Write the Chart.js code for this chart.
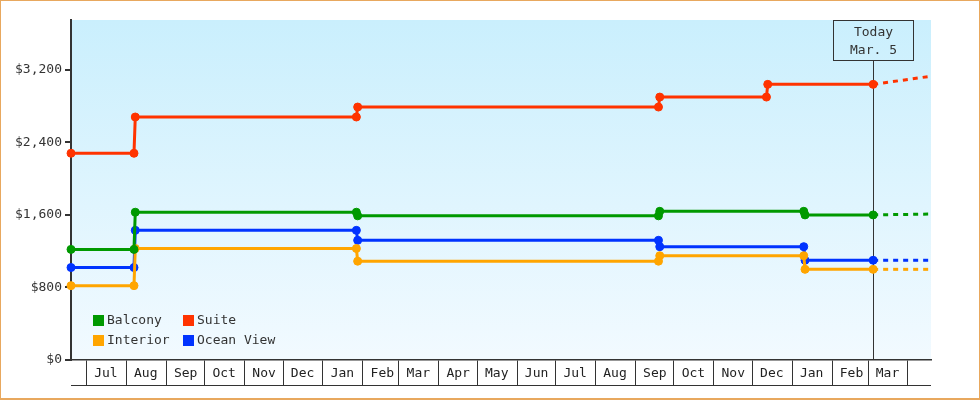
<!DOCTYPE html>
<html>
<head>
<meta charset="utf-8">
<script src="https://cdn.jsdelivr.net/npm/chart.js@4/dist/chart.umd.min.js"></script>
<style>
  html, body { margin: 0; padding: 0; background: #fff; }
  #wrap { position: relative; width: 980px; height: 400px; }
  #wrap::after {
    content: ''; position: absolute; left: 0; top: 0; right: 0; bottom: 0;
    border: 1px solid #e8a85e; border-bottom-width: 2px; pointer-events: none;
  }
  canvas { display: block; }
</style>
</head>
<body>
<div id="wrap"><canvas id="fares" width="980" height="400"></canvas></div>
<script>
// Series
const seriesNames = ['Balcony', 'Suite', 'Interior', 'Ocean View'];
const seriesColors = ['#009900', '#ff3300', '#ffa500', '#0033ff'];

// Price history (dates of each price change)
const cabinDates = ['2021-06-19', '2021-08-07', '2021-08-08', '2022-01-27', '2022-01-28',
                    '2022-09-19', '2022-09-20', '2023-01-10', '2023-01-11', '2023-03-05'];
const suiteDates = ['2021-06-19', '2021-08-07', '2021-08-08', '2022-01-27', '2022-01-28',
                    '2022-09-19', '2022-09-20', '2022-12-12', '2022-12-13', '2023-03-05'];

const balconyPrices = [1220, 1220, 1630, 1630, 1590, 1590, 1640, 1640, 1600, 1600];
const suitePrices = [2280, 2280, 2680, 2680, 2790, 2790, 2900, 2900, 3040, 3040];
const interiorPrices = [820, 820, 1230, 1230, 1090, 1090, 1150, 1150, 1000, 1000];
const oceanViewPrices = [1020, 1020, 1430, 1430, 1320, 1320, 1250, 1250, 1100, 1100];

// Projection past today (dashed)
const forecastDates = ['2023-03-05', '2023-04-19'];
const balconyForecast = [1600, 1610];
const suiteForecast = [3040, 3130];
const interiorForecast = [1000, 1000];
const oceanViewForecast = [1100, 1100];

// Axes
const axisStart = '2021-06-19';
const axisEnd = '2023-04-19';
const todayDate = '2023-03-05';
const todayLabel = ['Today', 'Mar. 5'];
const monthStarts = ['2021-07-01', '2021-08-01', '2021-09-01', '2021-10-01', '2021-11-01', '2021-12-01',
                     '2022-01-01', '2022-02-01', '2022-03-01', '2022-04-01', '2022-05-01', '2022-06-01',
                     '2022-07-01', '2022-08-01', '2022-09-01', '2022-10-01', '2022-11-01', '2022-12-01',
                     '2023-01-01', '2023-02-01', '2023-03-01', '2023-04-01'];
const monthLabels = ['Jul', 'Aug', 'Sep', 'Oct', 'Nov', 'Dec', 'Jan', 'Feb', 'Mar', 'Apr', 'May', 'Jun',
                     'Jul', 'Aug', 'Sep', 'Oct', 'Nov', 'Dec', 'Jan', 'Feb', 'Mar', ''];
const priceTicks = [0, 800, 1600, 2400, 3200];

const toDay = (s) => Date.parse(s + 'T00:00:00Z') / 86400000;
const toPoints = (dates, values) => dates.map((d, i) => ({ x: toDay(d), y: values[i] }));

function historySet(i, dates, values) {
  return {
    label: seriesNames[i],
    data: toPoints(dates, values),
    borderColor: seriesColors[i],
    backgroundColor: seriesColors[i],
    borderWidth: 3,
    pointRadius: 4,
    pointBorderWidth: 1,
    pointHoverRadius: 5,
    clip: false,
  };
}

function forecastSet(i, values) {
  return {
    label: seriesNames[i] + ' (projected)',
    data: toPoints(forecastDates, values),
    borderColor: seriesColors[i],
    borderWidth: 3,
    borderDash: [5, 5],
    borderCapStyle: 'butt',
    pointRadius: 0,
    clip: false,
  };
}

const decor = {
  id: 'decor',
  beforeDraw(chart) {
    // Sky gradient behind the plot
    const { ctx, chartArea: a } = chart;
    const g = ctx.createLinearGradient(0, a.top, 0, a.bottom);
    g.addColorStop(0, '#caeffd');
    g.addColorStop(1, '#f2faff');
    ctx.save();
    ctx.fillStyle = g;
    ctx.fillRect(a.left, a.top, a.right - a.left, a.bottom - a.top);
    ctx.restore();
  },
  beforeDatasetsDraw(chart) {
    // Today marker with its label box
    const { ctx, chartArea: a } = chart;
    const x = Math.round(chart.scales.x.getPixelForValue(toDay(todayDate))) + 0.5;
    const boxW = 80, boxH = 40;
    ctx.save();
    ctx.strokeStyle = '#333';
    ctx.lineWidth = 1;
    ctx.strokeRect(Math.round(x - boxW / 2) - 0.5, a.top + 0.5, boxW, boxH);
    ctx.beginPath();
    ctx.moveTo(x, a.top + boxH + 1);
    ctx.lineTo(x, a.bottom);
    ctx.stroke();
    ctx.fillStyle = '#333';
    ctx.font = '13px "DejaVu Sans Mono"';
    ctx.textAlign = 'center';
    ctx.textBaseline = 'middle';
    ctx.fillText(todayLabel[0], x, a.top + 13);
    ctx.fillText(todayLabel[1], x, a.top + 31);
    ctx.restore();
  },
  afterDraw(chart) {
    const { ctx, chartArea: a } = chart;
    ctx.save();
    // bottom edge of the month cells
    ctx.strokeStyle = '#333';
    ctx.lineWidth = 1;
    const yb = a.bottom + 25.5;
    ctx.beginPath();
    ctx.moveTo(a.left, yb);
    ctx.lineTo(a.right, yb);
    ctx.stroke();

    // Legend, two columns inside the plot
    ctx.font = '13px "DejaVu Sans Mono"';
    ctx.textBaseline = 'middle';
    ctx.textAlign = 'left';
    chart.data.datasets.slice(0, 4).forEach((ds, i) => {
      const bx = a.left + 22 + (i % 2) * 90;
      const by = a.bottom - 45 + Math.floor(i / 2) * 20;
      ctx.fillStyle = ds.borderColor;
      ctx.fillRect(bx, by, 11, 11);
      ctx.fillStyle = '#333';
      ctx.fillText(ds.label, bx + 14, by + 6);
    });
    ctx.restore();
  }
};

Chart.defaults.font.family = '"DejaVu Sans Mono", monospace';
Chart.defaults.font.size = 13;
Chart.defaults.color = '#333';

new Chart(document.getElementById('fares'), {
  type: 'line',
  data: {
    datasets: [
      historySet(0, cabinDates, balconyPrices),
      historySet(1, suiteDates, suitePrices),
      historySet(2, cabinDates, interiorPrices),
      historySet(3, cabinDates, oceanViewPrices),
      forecastSet(0, balconyForecast),
      forecastSet(1, suiteForecast),
      forecastSet(2, interiorForecast),
      forecastSet(3, oceanViewForecast),
    ]
  },
  options: {
    responsive: false,
    animation: false,
    layout: { padding: { left: 0, right: 49, top: 20, bottom: 15 } },
    plugins: {
      legend: { display: false },
      tooltip: { filter: (item) => item.datasetIndex < 4 },
    },
    scales: {
      x: {
        type: 'linear',
        min: toDay(axisStart),
        max: toDay(axisEnd),
        afterBuildTicks(scale) {
          scale.ticks = monthStarts.map((d) => ({ value: toDay(d) }));
        },
        afterFit(scale) { scale.height = 25; },
        ticks: {
          autoSkip: false,
          maxRotation: 0,
          padding: -19,
          labelOffset: 19.5,
          color: '#222',
          callback(value, index) { return monthLabels[index]; },
        },
        grid: {
          drawOnChartArea: false,
          tickLength: 25,
          color: '#333',
          lineWidth: 1,
        },
        border: { color: '#333', width: 1.5 },
      },
      y: {
        min: 0,
        max: 3750,
        afterBuildTicks(scale) {
          scale.ticks = priceTicks.map((v) => ({ value: v }));
        },
        afterFit(scale) { scale.width = 71; },
        ticks: {
          padding: 3,
          color: '#333',
          callback: (v) => '$' + v.toLocaleString('en-US'),
        },
        grid: {
          drawOnChartArea: false,
          tickLength: 6,
          color: '#333',
          lineWidth: 2,
        },
        border: { color: '#333', width: 2 },
      },
    },
  },
  plugins: [decor],
});
</script>
</body>
</html>
